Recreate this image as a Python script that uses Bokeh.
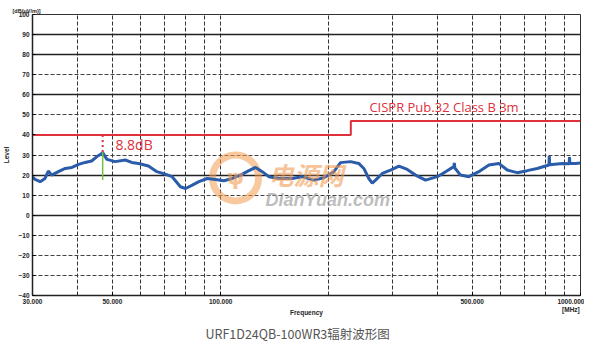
from bokeh.plotting import figure
from bokeh.models import FixedTicker, Grid, Label, Range1d, Title
from bokeh.embed import file_html
from bokeh.resources import INLINE

# ---- data ----
freq_mhz = [30, 30.5, 31.5, 32.5, 33.2, 33.9, 35.4, 37.0, 38.6, 40.3, 42.0, 43.8, 45.3,
            46.3, 47.0, 48.3, 50.9, 54.3, 56.6, 59.1, 63.0, 66.5, 70.1, 73.3, 77.3,
            79.9, 83.4, 87.0, 91.8, 96.8, 102, 107.7, 113.6, 119.8, 125, 130.5, 136.1,
            145, 158, 168.5, 181.5, 193.6, 206.3, 215.3, 229.6, 242, 250, 258, 263.8,
            269.4, 281.2, 296.6, 312.9, 330, 348, 371, 400, 421.8, 444.6, 446, 447.5,
            464, 489.6, 521.7, 556.5, 593, 625.8, 667, 711, 758, 817, 819, 821, 890,
            930, 932, 934, 969, 1000]
level_dbuv = [19.2, 17.8, 16.7, 18.3, 22.0, 20.0, 21.7, 23.3, 23.8, 25.3, 26.3, 27.0, 29.2,
              30.3, 31.2, 27.8, 26.7, 27.5, 26.3, 25.8, 24.5, 21.7, 20.5, 19.2, 14.2,
              13.3, 15.0, 16.7, 18.3, 17.8, 17.2, 18.3, 20.0, 22.2, 23.8, 21.7, 19.2,
              18.3, 18.3, 19.2, 17.5, 18.7, 21.7, 26.2, 26.7, 25.8, 23.3, 18.3, 16.0,
              17.5, 20.8, 22.5, 24.5, 22.8, 20.0, 17.5, 19.2, 21.7, 24.2, 26.0, 23.5,
              20.0, 19.2, 21.7, 25.0, 25.8, 22.5, 21.2, 22.2, 23.3, 25.0, 29.5, 25.2,
              25.8, 25.6, 29.0, 25.8, 25.8, 26.0]

limit_freq = [30, 230, 230, 1000]
limit_level = [40, 40, 47, 47]

margin_freq = 47.0
margin_top = 40.0
margin_peak = 31.5
marker_low = 17.5
marker_high = 31.8

y_ticks = [100, 90, 80, 70, 60, 50, 40, 30, 20, 10, 0, -10, -20, -30, -40]
solid_levels = [90, 80, 60, 20, 0]
dashed_levels = [70, 50, 30, 10, -10, -20, -30]
x_label_ticks = [30, 50, 100, 500, 1000]
x_label_text = {30: "30.000", 50: "50.000", 100: "100.000", 500: "500.000",
                1000: "1000.000\n[MHz]"}
x_grid_freqs = [40, 50, 60, 70, 80, 90, 100, 200, 300, 400, 500, 600, 700, 800, 900]

RED = "#e0303c"
BLUE = "#2a5caa"
GREEN = "#74c043"

p = figure(width=584, height=345, x_axis_type="log",
           x_range=Range1d(30, 1000), y_range=Range1d(-40, 100),
           output_backend="svg", toolbar_location=None,
           min_border_left=32, min_border_right=4, min_border_top=14, min_border_bottom=49)
p.background_fill_color = "white"
p.border_fill_color = "white"
p.outline_line_color = "#333333"
p.outline_line_width = 1

# unit label above the frame
unit_title = Title(text="[dB(uV/m)]", align="left", offset=-20,
                   text_font="Liberation Sans", text_font_style="bold",
                   text_font_size="5.5px", text_color="#222222", standoff=1)
p.add_layout(unit_title, "above")

# caption below
caption = Title(text="URF1D24QB-100WR3辐射波形图", align="left", offset=173,
                text_font="Noto Sans CJK SC", text_font_style="normal",
                text_font_size="12.5px", text_color="#555555", standoff=6)
p.add_layout(caption, "below")

# axes
p.xaxis.ticker = FixedTicker(ticks=x_label_ticks)
p.xaxis.major_label_overrides = x_label_text
p.yaxis.ticker = FixedTicker(ticks=y_ticks)
for ax in (p.xaxis[0], p.yaxis[0]):
    ax.major_label_text_font = "Liberation Sans"
    ax.major_label_text_font_style = "bold"
    ax.major_label_text_font_size = "6.5px"
    ax.major_label_text_color = "#222222"
    ax.major_tick_out = 0
    ax.major_tick_in = 3
    ax.minor_tick_out = 0
    ax.minor_tick_in = 0
    ax.axis_line_color = "#222222"
    ax.axis_line_width = 1.5
    ax.axis_label_text_font = "Liberation Sans"
    ax.axis_label_text_font_style = "bold"
    ax.axis_label_text_font_size = "6.5px"
    ax.axis_label_text_color = "#222222"
p.xaxis.major_label_standoff = 2
p.yaxis.major_label_standoff = 3
p.xaxis.axis_label = "Frequency"
p.xaxis.axis_label_standoff = -7
p.yaxis.axis_label = "Level"
p.yaxis.axis_label_standoff = 5

# grids
p.xgrid.ticker = FixedTicker(ticks=x_grid_freqs)
p.xgrid.grid_line_color = "#333333"
p.xgrid.grid_line_dash = "4 2"
p.xgrid.grid_line_width = 1
p.ygrid.ticker = FixedTicker(ticks=dashed_levels)
p.ygrid.grid_line_color = "#444444"
p.ygrid.grid_line_dash = "4 2"
p.ygrid.grid_line_width = 1
solid_grid = Grid(dimension=1, ticker=FixedTicker(ticks=solid_levels),
                  grid_line_color="#222222", grid_line_width=1.6)
p.add_layout(solid_grid, "center")

# watermark
p.scatter([110], [18.6], size=46, fill_color=None, line_color="#f29a50",
          line_width=7, line_alpha=0.55)
p.add_layout(Label(x=110, y=18.6, text="ψ", text_font="DejaVu Sans",
                   text_font_style="bold", text_font_size="22px", text_color="#f29a50",
                   text_alpha=0.6, text_align="center", text_baseline="middle"))
p.add_layout(Label(x=135.9, y=20.6, text="电源网", text_font="Noto Sans CJK SC",
                   text_font_style="bold italic", text_font_size="25px",
                   text_color="#f29a50", text_alpha=0.6, text_baseline="middle"))
p.add_layout(Label(x=133.3, y=7.6, text="DianYuan.com", text_font="Liberation Sans",
                   text_font_style="bold italic", text_font_size="18px",
                   text_color="#a0a0a0", text_alpha=0.7, text_baseline="middle"))

# limit line
p.line(limit_freq, limit_level, line_color=RED, line_width=2)

# measurement trace
p.line(freq_mhz, level_dbuv, line_color=BLUE, line_width=3)

# margin markers
p.segment(x0=[margin_freq], y0=[marker_low], x1=[margin_freq], y1=[marker_high],
          line_color=GREEN, line_width=1.5)
p.segment(x0=[margin_freq], y0=[margin_top], x1=[margin_freq], y1=[margin_peak],
          line_color=RED, line_width=2, line_dash="2 3")

# texts
p.add_layout(Label(x=51.0, y=35.0, text="8.8dB", text_font="Open Sans",
                   text_font_size="14px", text_color=RED, text_baseline="middle"))
p.add_layout(Label(x=259, y=53.8, text="CISPR Pub.32 Class B 3m", text_font="Open Sans",
                   text_font_size="13px", text_color=RED, text_baseline="middle"))

open("out.html", "w").write(file_html(p, INLINE))
